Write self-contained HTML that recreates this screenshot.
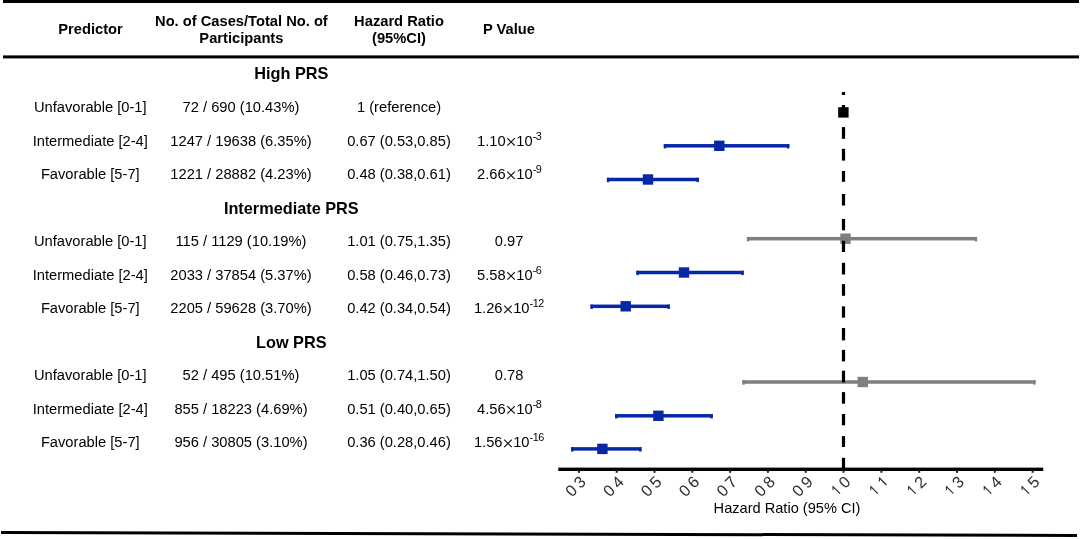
<!DOCTYPE html>
<html><head><meta charset="utf-8"><title>Forest plot</title>
<style>
html,body{margin:0;padding:0;background:#fff;}
body{width:1080px;height:539px;overflow:hidden;font-family:"Liberation Sans",sans-serif;}
svg{display:block;will-change:transform;font-family:"Liberation Sans",sans-serif;}
.b{font-weight:bold;}
</style></head><body>
<svg width="1080" height="539" viewBox="0 0 1080 539">
<rect width="1080" height="539" fill="#fff"/>
<rect x="3" y="0" width="1076" height="3" fill="#000"/>
<rect x="3" y="55.4" width="1076" height="3" fill="#000"/>
<line x1="1" y1="532.5" x2="1077" y2="535.5" stroke="#000" stroke-width="3"/>
<text x="90.5" y="33.6" text-anchor="middle" font-size="14.7" class='b'>Predictor</text>
<text x="241.4" y="25.8" text-anchor="middle" font-size="14.7" class='b'>No. of Cases/Total No. of</text>
<text x="241.4" y="42.5" text-anchor="middle" font-size="14.7" class='b'>Participants</text>
<text x="399" y="25.8" text-anchor="middle" font-size="14.7" class='b'>Hazard Ratio</text>
<text x="399" y="42.5" text-anchor="middle" font-size="14.7" class='b'>(95%CI)</text>
<text x="509" y="33.6" text-anchor="middle" font-size="14.7" class='b'>P Value</text>
<text x="291.3" y="79.0" text-anchor="middle" font-size="16.3" class='b'>High PRS</text>
<text x="90.3" y="112.4" text-anchor="middle" font-size="14.7">Unfavorable [0-1]</text>
<text x="241.0" y="112.4" text-anchor="middle" font-size="14.7">72 / 690 (10.43%)</text>
<text x="399" y="112.4" text-anchor="middle" font-size="14.7">1 (reference)</text>
<text x="90.3" y="145.9" text-anchor="middle" font-size="14.7">Intermediate [2-4]</text>
<text x="241.0" y="145.9" text-anchor="middle" font-size="14.7">1247 / 19638 (6.35%)</text>
<text x="399" y="145.9" text-anchor="middle" font-size="14.7">0.67 (0.53,0.85)</text>
<text x="505.6" y="145.9" text-anchor="end" font-size="14.7">1.10</text>
<path d="M507.30 138.15L514.80 145.65M507.30 145.65L514.80 138.15" stroke="#111" stroke-width="1.15" fill="none"/>
<text x="516.3" y="145.9" font-size="14.7">10</text>
<text x="532.7" y="139.60" font-size="10.8" letter-spacing="-0.45">-3</text>
<text x="90.3" y="179.4" text-anchor="middle" font-size="14.7">Favorable [5-7]</text>
<text x="241.0" y="179.4" text-anchor="middle" font-size="14.7">1221 / 28882 (4.23%)</text>
<text x="399" y="179.4" text-anchor="middle" font-size="14.7">0.48 (0.38,0.61)</text>
<text x="505.6" y="179.4" text-anchor="end" font-size="14.7">2.66</text>
<path d="M507.30 171.65L514.80 179.15M507.30 179.15L514.80 171.65" stroke="#111" stroke-width="1.15" fill="none"/>
<text x="516.3" y="179.4" font-size="14.7">10</text>
<text x="532.7" y="173.10" font-size="10.8" letter-spacing="-0.45">-9</text>
<text x="291.3" y="213.5" text-anchor="middle" font-size="16.3" class='b'>Intermediate PRS</text>
<text x="90.3" y="246.4" text-anchor="middle" font-size="14.7">Unfavorable [0-1]</text>
<text x="241.0" y="246.4" text-anchor="middle" font-size="14.7">115 / 1129 (10.19%)</text>
<text x="399" y="246.4" text-anchor="middle" font-size="14.7">1.01 (0.75,1.35)</text>
<text x="509.1" y="246.4" text-anchor="middle" font-size="14.7">0.97</text>
<text x="90.3" y="279.9" text-anchor="middle" font-size="14.7">Intermediate [2-4]</text>
<text x="241.0" y="279.9" text-anchor="middle" font-size="14.7">2033 / 37854 (5.37%)</text>
<text x="399" y="279.9" text-anchor="middle" font-size="14.7">0.58 (0.46,0.73)</text>
<text x="505.6" y="279.9" text-anchor="end" font-size="14.7">5.58</text>
<path d="M507.30 272.15L514.80 279.65M507.30 279.65L514.80 272.15" stroke="#111" stroke-width="1.15" fill="none"/>
<text x="516.3" y="279.9" font-size="14.7">10</text>
<text x="532.7" y="273.60" font-size="10.8" letter-spacing="-0.45">-6</text>
<text x="90.3" y="313.4" text-anchor="middle" font-size="14.7">Favorable [5-7]</text>
<text x="241.0" y="313.4" text-anchor="middle" font-size="14.7">2205 / 59628 (3.70%)</text>
<text x="399" y="313.4" text-anchor="middle" font-size="14.7">0.42 (0.34,0.54)</text>
<text x="502.5" y="313.4" text-anchor="end" font-size="14.7">1.26</text>
<path d="M504.20 305.65L511.70 313.15M504.20 313.15L511.70 305.65" stroke="#111" stroke-width="1.15" fill="none"/>
<text x="513.2" y="313.4" font-size="14.7">10</text>
<text x="529.6" y="307.10" font-size="10.8" letter-spacing="-0.45">-12</text>
<text x="291.3" y="347.5" text-anchor="middle" font-size="16.3" class='b'>Low PRS</text>
<text x="90.3" y="380.4" text-anchor="middle" font-size="14.7">Unfavorable [0-1]</text>
<text x="241.0" y="380.4" text-anchor="middle" font-size="14.7">52 / 495 (10.51%)</text>
<text x="399" y="380.4" text-anchor="middle" font-size="14.7">1.05 (0.74,1.50)</text>
<text x="509.1" y="380.4" text-anchor="middle" font-size="14.7">0.78</text>
<text x="90.3" y="413.9" text-anchor="middle" font-size="14.7">Intermediate [2-4]</text>
<text x="241.0" y="413.9" text-anchor="middle" font-size="14.7">855 / 18223 (4.69%)</text>
<text x="399" y="413.9" text-anchor="middle" font-size="14.7">0.51 (0.40,0.65)</text>
<text x="505.6" y="413.9" text-anchor="end" font-size="14.7">4.56</text>
<path d="M507.30 406.15L514.80 413.65M507.30 413.65L514.80 406.15" stroke="#111" stroke-width="1.15" fill="none"/>
<text x="516.3" y="413.9" font-size="14.7">10</text>
<text x="532.7" y="407.60" font-size="10.8" letter-spacing="-0.45">-8</text>
<text x="90.3" y="447.4" text-anchor="middle" font-size="14.7">Favorable [5-7]</text>
<text x="241.0" y="447.4" text-anchor="middle" font-size="14.7">956 / 30805 (3.10%)</text>
<text x="399" y="447.4" text-anchor="middle" font-size="14.7">0.36 (0.28,0.46)</text>
<text x="502.5" y="447.4" text-anchor="end" font-size="14.7">1.56</text>
<path d="M504.20 439.65L511.70 447.15M504.20 447.15L511.70 439.65" stroke="#111" stroke-width="1.15" fill="none"/>
<text x="513.2" y="447.4" font-size="14.7">10</text>
<text x="529.6" y="441.10" font-size="10.8" letter-spacing="-0.45">-16</text>
<rect x="838.20" y="107.20" width="10.4" height="10.4" fill="#000"/>
<rect x="663.8" y="144.05" width="125.5" height="3.5" fill="#0628a6"/>
<rect x="663.8" y="144.05" width="2.4" height="4.40" fill="#0628a6"/>
<rect x="786.9" y="144.05" width="2.4" height="4.40" fill="#0628a6"/>
<rect x="714.10" y="140.60" width="10.4" height="10.4" fill="#0628a6"/>
<rect x="606.9" y="177.75" width="92.0" height="3.5" fill="#0628a6"/>
<rect x="606.9" y="177.75" width="2.4" height="4.40" fill="#0628a6"/>
<rect x="696.5" y="177.75" width="2.4" height="4.40" fill="#0628a6"/>
<rect x="642.80" y="174.30" width="10.4" height="10.4" fill="#0628a6"/>
<rect x="746.9" y="236.95" width="230.2" height="3.5" fill="#7f7f7f"/>
<rect x="746.9" y="236.95" width="2.4" height="4.40" fill="#7f7f7f"/>
<rect x="974.7" y="236.95" width="2.4" height="4.40" fill="#7f7f7f"/>
<rect x="840.30" y="233.50" width="10.4" height="10.4" fill="#7f7f7f"/>
<rect x="636.4" y="270.75" width="107.3" height="3.5" fill="#0628a6"/>
<rect x="636.4" y="270.75" width="2.4" height="4.40" fill="#0628a6"/>
<rect x="741.3" y="270.75" width="2.4" height="4.40" fill="#0628a6"/>
<rect x="678.80" y="267.30" width="10.4" height="10.4" fill="#0628a6"/>
<rect x="590.5" y="304.55" width="79.3" height="3.5" fill="#0628a6"/>
<rect x="590.5" y="304.55" width="2.4" height="4.40" fill="#0628a6"/>
<rect x="667.4" y="304.55" width="2.4" height="4.40" fill="#0628a6"/>
<rect x="620.50" y="301.10" width="10.4" height="10.4" fill="#0628a6"/>
<rect x="742.4" y="380.25" width="293.1" height="3.5" fill="#7f7f7f"/>
<rect x="742.4" y="380.25" width="2.4" height="4.40" fill="#7f7f7f"/>
<rect x="1033.1" y="380.25" width="2.4" height="4.40" fill="#7f7f7f"/>
<rect x="857.60" y="376.80" width="10.4" height="10.4" fill="#7f7f7f"/>
<rect x="615.1" y="414.05" width="97.7" height="3.5" fill="#0628a6"/>
<rect x="615.1" y="414.05" width="2.4" height="4.40" fill="#0628a6"/>
<rect x="710.4" y="414.05" width="2.4" height="4.40" fill="#0628a6"/>
<rect x="653.20" y="410.60" width="10.4" height="10.4" fill="#0628a6"/>
<rect x="571.1" y="447.15" width="70.4" height="3.5" fill="#0628a6"/>
<rect x="571.1" y="447.15" width="2.4" height="4.40" fill="#0628a6"/>
<rect x="639.1" y="447.15" width="2.4" height="4.40" fill="#0628a6"/>
<rect x="597.20" y="443.70" width="10.4" height="10.4" fill="#0628a6"/>
<rect x="841.9" y="92.0" width="3.2" height="3.0" fill="#000"/>
<rect x="841.9" y="105.0" width="3.2" height="11.7" fill="#000"/>
<rect x="841.9" y="127.1" width="3.2" height="11.7" fill="#000"/>
<rect x="841.9" y="148.8" width="3.2" height="11.8" fill="#000"/>
<rect x="841.9" y="171.0" width="3.2" height="10.8" fill="#000"/>
<rect x="841.9" y="194.0" width="3.2" height="11.5" fill="#000"/>
<rect x="841.9" y="218.9" width="3.2" height="11.4" fill="#000"/>
<rect x="841.9" y="240.8" width="3.2" height="11.2" fill="#000"/>
<rect x="841.9" y="262.8" width="3.2" height="11.7" fill="#000"/>
<rect x="841.9" y="284.1" width="3.2" height="11.7" fill="#000"/>
<rect x="841.9" y="306.4" width="3.2" height="11.2" fill="#000"/>
<rect x="841.9" y="328.0" width="3.2" height="12.4" fill="#000"/>
<rect x="841.9" y="349.9" width="3.2" height="11.5" fill="#000"/>
<rect x="841.9" y="370.7" width="3.2" height="11.7" fill="#000"/>
<rect x="841.9" y="392.1" width="3.2" height="11.6" fill="#000"/>
<rect x="841.9" y="414.0" width="3.2" height="11.3" fill="#000"/>
<rect x="841.9" y="436.1" width="3.2" height="10.9" fill="#000"/>
<rect x="841.9" y="457.8" width="3.2" height="10.2" fill="#000"/>
<rect x="558.3" y="467.6" width="484.9" height="3.4" fill="#000"/>
<rect x="577.90" y="470" width="2" height="2.8" fill="#222"/>
<rect x="615.71" y="470" width="2" height="2.8" fill="#222"/>
<rect x="653.52" y="470" width="2" height="2.8" fill="#222"/>
<rect x="691.33" y="470" width="2" height="2.8" fill="#222"/>
<rect x="729.14" y="470" width="2" height="2.8" fill="#222"/>
<rect x="766.95" y="470" width="2" height="2.8" fill="#222"/>
<rect x="804.76" y="470" width="2" height="2.8" fill="#222"/>
<rect x="842.57" y="470" width="2" height="2.8" fill="#222"/>
<rect x="880.38" y="470" width="2" height="2.8" fill="#222"/>
<rect x="918.19" y="470" width="2" height="2.8" fill="#222"/>
<rect x="956.00" y="470" width="2" height="2.8" fill="#222"/>
<rect x="993.81" y="470" width="2" height="2.8" fill="#222"/>
<rect x="1031.62" y="470" width="2" height="2.8" fill="#222"/>
<g transform="translate(583.80,485.95) rotate(-45)" font-size="16.2" fill="#2e2e2e" text-anchor="middle"><text x="-12.2" y="0">0</text><text x="0" y="0">3</text></g>
<g transform="translate(621.61,485.95) rotate(-45)" font-size="16.2" fill="#2e2e2e" text-anchor="middle"><text x="-12.2" y="0">0</text><text x="0" y="0">4</text></g>
<g transform="translate(659.42,485.95) rotate(-45)" font-size="16.2" fill="#2e2e2e" text-anchor="middle"><text x="-12.2" y="0">0</text><text x="0" y="0">5</text></g>
<g transform="translate(697.23,485.95) rotate(-45)" font-size="16.2" fill="#2e2e2e" text-anchor="middle"><text x="-12.2" y="0">0</text><text x="0" y="0">6</text></g>
<g transform="translate(735.04,485.95) rotate(-45)" font-size="16.2" fill="#2e2e2e" text-anchor="middle"><text x="-12.2" y="0">0</text><text x="0" y="0">7</text></g>
<g transform="translate(772.85,485.95) rotate(-45)" font-size="16.2" fill="#2e2e2e" text-anchor="middle"><text x="-12.2" y="0">0</text><text x="0" y="0">8</text></g>
<g transform="translate(810.66,485.95) rotate(-45)" font-size="16.2" fill="#2e2e2e" text-anchor="middle"><text x="-12.2" y="0">0</text><text x="0" y="0">9</text></g>
<g transform="translate(848.47,485.95) rotate(-45)" font-size="16.2" fill="#2e2e2e" text-anchor="middle"><path d="M-10.79 -0.5L-10.79 -11.14L-11.67 -11.14Q-12.50 -9.68 -13.98 -8.79L-13.98 -7.46Q-12.79 -8.20 -12.02 -9.01L-12.02 -0.5Z"/><text x="0" y="0">0</text></g>
<g transform="translate(886.28,485.95) rotate(-45)" font-size="16.2" fill="#2e2e2e" text-anchor="middle"><path d="M-10.79 -0.5L-10.79 -11.14L-11.67 -11.14Q-12.50 -9.68 -13.98 -8.79L-13.98 -7.46Q-12.79 -8.20 -12.02 -9.01L-12.02 -0.5Z"/><path d="M1.41 -0.5L1.41 -11.14L0.53 -11.14Q-0.30 -9.68 -1.78 -8.79L-1.78 -7.46Q-0.59 -8.20 0.18 -9.01L0.18 -0.5Z"/></g>
<g transform="translate(924.09,485.95) rotate(-45)" font-size="16.2" fill="#2e2e2e" text-anchor="middle"><path d="M-10.79 -0.5L-10.79 -11.14L-11.67 -11.14Q-12.50 -9.68 -13.98 -8.79L-13.98 -7.46Q-12.79 -8.20 -12.02 -9.01L-12.02 -0.5Z"/><text x="0" y="0">2</text></g>
<g transform="translate(961.90,485.95) rotate(-45)" font-size="16.2" fill="#2e2e2e" text-anchor="middle"><path d="M-10.79 -0.5L-10.79 -11.14L-11.67 -11.14Q-12.50 -9.68 -13.98 -8.79L-13.98 -7.46Q-12.79 -8.20 -12.02 -9.01L-12.02 -0.5Z"/><text x="0" y="0">3</text></g>
<g transform="translate(999.71,485.95) rotate(-45)" font-size="16.2" fill="#2e2e2e" text-anchor="middle"><path d="M-10.79 -0.5L-10.79 -11.14L-11.67 -11.14Q-12.50 -9.68 -13.98 -8.79L-13.98 -7.46Q-12.79 -8.20 -12.02 -9.01L-12.02 -0.5Z"/><text x="0" y="0">4</text></g>
<g transform="translate(1037.52,485.95) rotate(-45)" font-size="16.2" fill="#2e2e2e" text-anchor="middle"><path d="M-10.79 -0.5L-10.79 -11.14L-11.67 -11.14Q-12.50 -9.68 -13.98 -8.79L-13.98 -7.46Q-12.79 -8.20 -12.02 -9.01L-12.02 -0.5Z"/><text x="0" y="0">5</text></g>
<text x="787" y="513.4" text-anchor="middle" font-size="14.6">Hazard Ratio (95% CI)</text>
</svg></body></html>
